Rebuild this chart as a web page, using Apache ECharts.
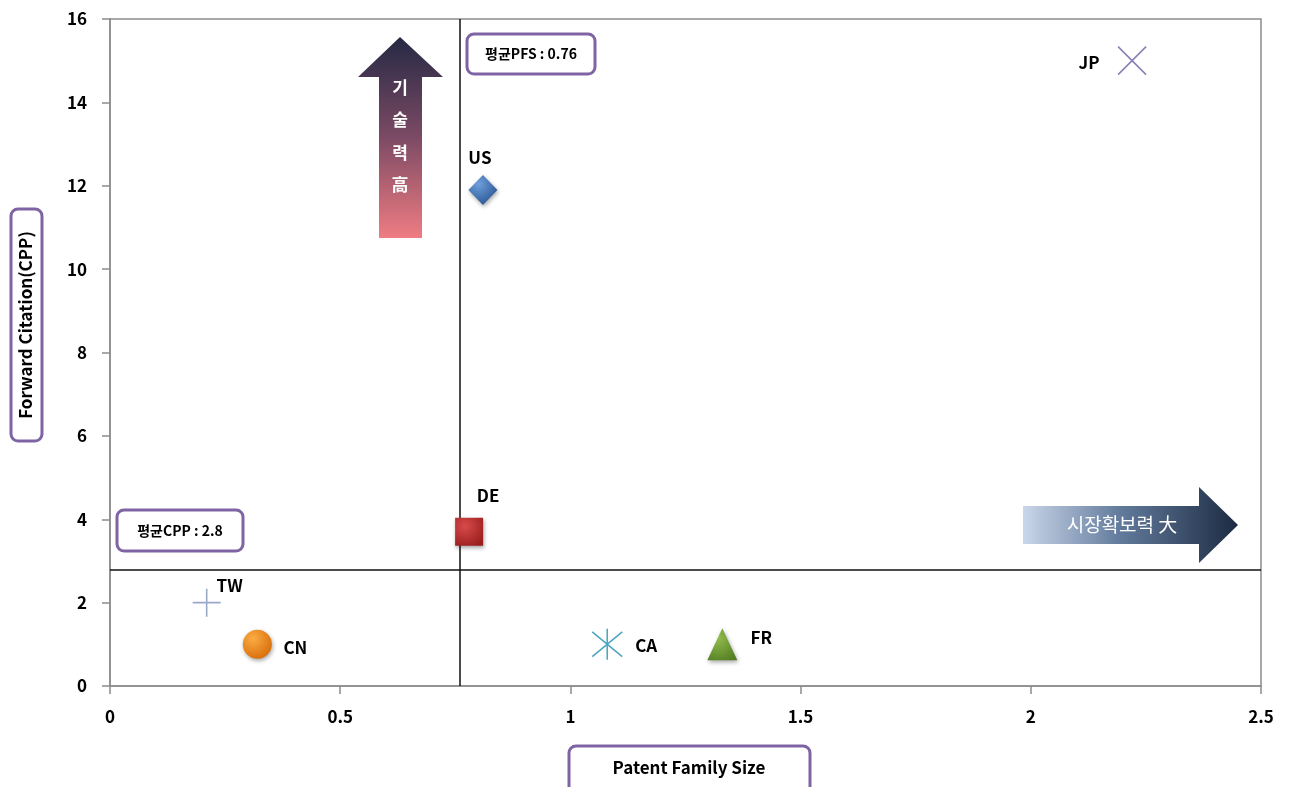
<!DOCTYPE html>
<html>
<head>
<meta charset="utf-8">
<script src="https://cdn.jsdelivr.net/npm/echarts@6/dist/echarts.min.js"></script>
<style>
  html, body { margin: 0; padding: 0; background: #fff; }
  #chart { width: 1291px; height: 787px; }
</style>
</head>
<body>
<div id="chart"></div>
<script>
// Countries plotted by patent family size (x) and forward citations per patent (y)
const countries = ['JP', 'US', 'DE', 'TW', 'CN', 'CA', 'FR'];
const familySize = [2.22, 0.81, 0.78, 0.21, 0.32, 1.08, 1.33];
const citations = [15, 11.9, 3.7, 2, 1, 1, 1];

// Averages drawn as the quadrant dividers
const avgPFS = 0.76;
const avgCPP = 2.8;

// Axis ticks
const xTicks = [0, 0.5, 1, 1.5, 2, 2.5];
const yTicks = [0, 2, 4, 6, 8, 10, 12, 14, 16];

const FONT = '"Noto Sans CJK KR", "Noto Sans", sans-serif';
const GREY = '#8c8c8c';
const PURPLE = '#7f64a4';
const INK = '#000';

function radial(c1, c2) {
  return new echarts.graphic.RadialGradient(0.35, 0.3, 0.8, [
    { offset: 0, color: c1 },
    { offset: 1, color: c2 }
  ]);
}

// Marker and label style per country
const styles = {
  JP: { symbol: 'path://M0,0L10,10M10,0L0,10', size: 28, stroke: '#8a80b4', label: [-43, 2] },
  US: { symbol: 'diamond', size: [29, 30], fill: radial('#6f9fdc', '#24528e'), label: [-3, -32] },
  DE: { symbol: 'rect', size: 28, fill: radial('#d84a4a', '#9a1e1e'), label: [19, -36] },
  TW: { symbol: 'path://M5,0L5,10M0,5L10,5', size: 28, stroke: '#9aa8cc', label: [23, -17] },
  CN: { symbol: 'circle', size: 29, fill: radial('#fbac44', '#d66a06'), label: [38, 3] },
  CA: { symbol: 'path://M5,0L5,10M0,1L10,9M0,9L10,1', size: [30, 31], stroke: '#4fa6c2', label: [39, 1] },
  FR: { symbol: 'triangle', size: [30, 32], fill: radial('#92bc4e', '#557f22'), label: [39, -7] }
};

const series = countries.map((name, i) => {
  const s = styles[name];
  const stroked = !!s.stroke;
  const item = {
    name: name,
    type: 'scatter',
    data: [[familySize[i], citations[i]]],
    symbol: s.symbol,
    symbolSize: s.size,
    itemStyle: stroked
      ? { color: 'none', borderColor: s.stroke, borderWidth: 1.6, opacity: 1 }
      : { color: s.fill, opacity: 1, shadowBlur: 4, shadowColor: 'rgba(0,0,0,0.35)', shadowOffsetX: 1, shadowOffsetY: 2 },
    label: {
      show: true,
      position: 'inside',
      offset: s.label,
      formatter: name,
      color: INK,
      fontFamily: FONT,
      fontWeight: 'bold',
      fontSize: 17
    },
    emphasis: { disabled: true },
    z: 5
  };
  if (i === 0) {
    item.markLine = {
      silent: true,
      symbol: 'none',
      animation: false,
      label: { show: false },
      lineStyle: { color: '#111', width: 1.5, type: 'solid', opacity: 1 },
      data: [{ xAxis: avgPFS }, { yAxis: avgCPP }]
    };
  }
  return item;
});

// Text boxes and the two directional arrows
const boxText = (cx, cy, text, size) => ({
  type: 'text', silent: true, z: 11,
  style: { text: text, x: cx, y: cy, align: 'center', verticalAlign: 'middle',
    font: 'bold ' + size + 'px ' + FONT, fill: INK }
});
const box = (x, y, w, h) => ({
  type: 'rect', silent: true, z: 10,
  shape: { x: x, y: y, width: w, height: h, r: 7 },
  style: { fill: '#fff', stroke: PURPLE, lineWidth: 3 }
});

const graphics = [
  // average PFS note
  box(467, 34, 128, 40),
  boxText(531, 54, '평균PFS : 0.76', 14),
  // average CPP note
  box(117, 510, 126, 41),
  boxText(180, 531, '평균CPP : 2.8', 14),
  // y axis title
  box(11, 209, 31, 232),
  {
    type: 'text', silent: true, z: 11, x: 26, y: 325, rotation: Math.PI / 2,
    style: { text: 'Forward Citation(CPP)', x: 0, y: 0, align: 'center', verticalAlign: 'middle',
      font: 'bold 17px ' + FONT, fill: INK }
  },
  // x axis title
  box(569, 746, 241, 50),
  boxText(689, 768, 'Patent Family Size', 17),
  // upward arrow: technology strength
  {
    type: 'polygon', silent: true, z: 3,
    shape: { points: [[400, 37], [443, 77], [422, 77], [422, 238], [379, 238], [379, 77], [358, 77]] },
    style: {
      fill: new echarts.graphic.LinearGradient(0, 0, 0, 1, [
        { offset: 0, color: '#252944' },
        { offset: 0.5, color: '#7c4a64' },
        { offset: 1, color: '#ef7c82' }
      ])
    }
  },
  {
    type: 'text', silent: true, z: 4,
    style: { text: '기\n술\n력\n高', x: 400, y: 136, align: 'center', verticalAlign: 'middle',
      lineHeight: 32.5, font: 'bold 17px ' + FONT, fill: '#fff' }
  },
  // rightward arrow: market coverage
  {
    type: 'polygon', silent: true, z: 3,
    shape: { points: [[1023, 506], [1199, 506], [1199, 487], [1238, 525], [1199, 563], [1199, 544], [1023, 544]] },
    style: {
      fill: new echarts.graphic.LinearGradient(0, 0, 1, 0, [
        { offset: 0, color: '#cad6ea' },
        { offset: 0.45, color: '#627b9c' },
        { offset: 1, color: '#1c2b42' }
      ])
    }
  },
  {
    type: 'text', silent: true, z: 4,
    style: { text: '시장확보력 大', x: 1122, y: 525, align: 'center', verticalAlign: 'middle',
      font: '19px ' + FONT, fill: '#fff' }
  }
];

const chart = echarts.init(document.getElementById('chart'), null, { renderer: 'canvas' });
chart.setOption({
  animation: false,
  backgroundColor: '#fff',
  grid: {
    left: 110, right: 30, top: 19, bottom: 101,
    show: true, borderColor: GREY, borderWidth: 1.5, backgroundColor: 'transparent'
  },
  xAxis: {
    type: 'value',
    min: xTicks[0], max: xTicks[xTicks.length - 1], interval: xTicks[1] - xTicks[0],
    axisLine: { show: true, lineStyle: { color: GREY, width: 1.5 } },
    axisTick: { show: true, length: 8, lineStyle: { color: GREY, width: 1.5 } },
    splitLine: { show: false },
    axisLabel: { margin: 22, color: INK, fontFamily: FONT, fontWeight: 'bold', fontSize: 17,
      formatter: v => String(v) }
  },
  yAxis: {
    type: 'value',
    min: yTicks[0], max: yTicks[yTicks.length - 1], interval: yTicks[1] - yTicks[0],
    axisLine: { show: true, lineStyle: { color: GREY, width: 1.5 } },
    axisTick: { show: true, length: 8, lineStyle: { color: GREY, width: 1.5 } },
    splitLine: { show: false },
    axisLabel: { margin: 23, color: INK, fontFamily: FONT, fontWeight: 'bold', fontSize: 17 }
  },
  series: series,
  graphic: graphics
});
</script>
</body>
</html>
